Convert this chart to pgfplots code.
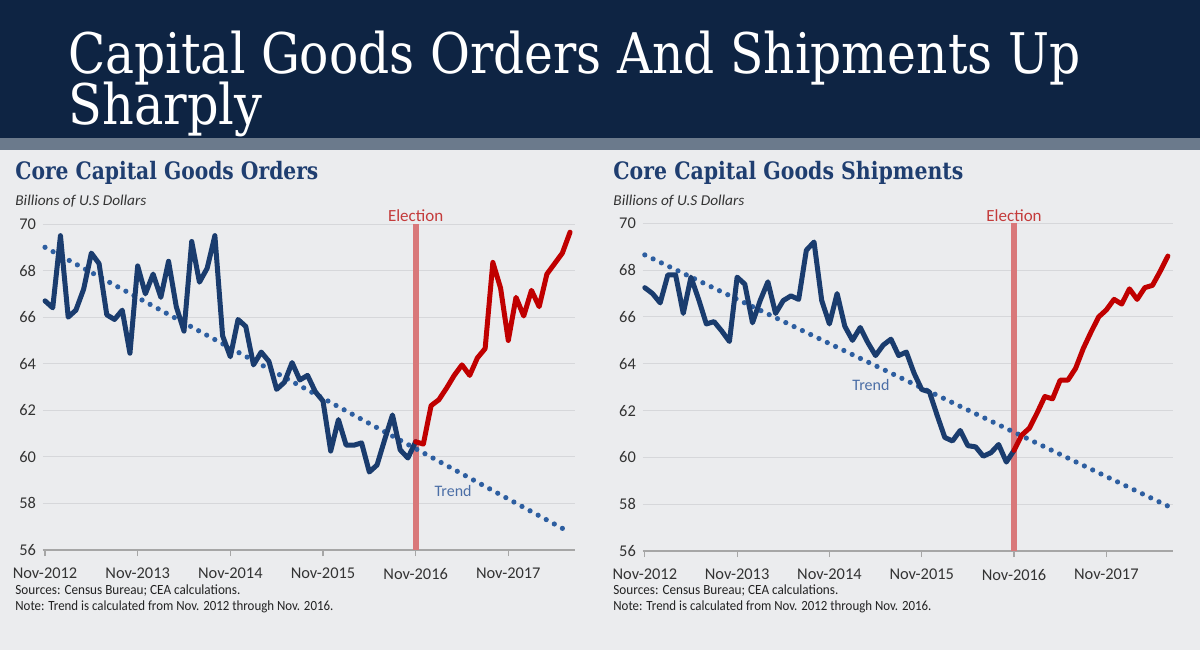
\documentclass[border=0pt]{standalone}
\usepackage{fontspec}
\setmainfont{Carlito}
\newfontfamily\serifT{DejaVu Serif}
\usepackage{graphicx}
\usepackage{pgfplots}
\pgfplotsset{compat=1.18}
\definecolor{bgc}{HTML}{EBECEE}
\definecolor{navy}{HTML}{0E2443}
\definecolor{strip}{HTML}{6B7A8C}
\definecolor{subc}{HTML}{1F3E70}
\definecolor{bluec}{HTML}{1A3C6E}
\definecolor{redc}{HTML}{C00000}
\definecolor{trendc}{HTML}{2D5EA0}
\definecolor{trendtext}{HTML}{4B6EA6}
\definecolor{elec}{HTML}{D9787A}
\definecolor{electext}{HTML}{C43B3B}
\definecolor{axisc}{HTML}{A6A6A6}
\definecolor{gridc}{HTML}{D6D7DA}
\definecolor{labelc}{HTML}{333333}
\definecolor{notec}{HTML}{222222}
\pgfplotsset{
  base/.style={
    scale only axis, clip=false,
    xmin=-0.3, xmax=68.6, ymin=56, ymax=70,
    axis x line*=bottom, axis y line*=left,
    y axis line style={draw=none},
    x axis line style={draw=axisc, line width=0.6pt, -},
    xtick={0,12,24,36,48,60},
    xticklabels={Nov-2012,Nov-2013,Nov-2014,Nov-2015,Nov-2016,Nov-2017},
    ytick={56,58,...,70},
    tick align=outside,
    major tick length=3pt,
    xtick style={draw=axisc, line width=0.6pt},
    ytick style={draw=none},
    ymajorgrids, grid style={draw=gridc, line width=0.5pt},
    tick label style={font=\fontsize{8.2}{9}\selectfont, text=labelc},
    /pgf/number format/assume math mode=true,
    xticklabel style={yshift=-2.5pt},
    yticklabel style={xshift=3.2pt},
  },
  elecline/.style={elec, line width=3pt},
  trendline/.style={trendc, line width=2.6pt, dash pattern=on 0pt off 4.6pt, line cap=round},
  blueline/.style={bluec, line width=2.5pt, line join=round, line cap=round},
  redline/.style={redc, line width=2.5pt, line join=round, line cap=round},
}
\begin{document}
\begin{tikzpicture}[x=1pt,y=1pt]
\fill[bgc] (0,0) rectangle (600,325);
\fill[navy] (0,256) rectangle (600,325);
\fill[strip] (0,250) rectangle (600,256);
\node[anchor=base west, inner sep=0, text=white] at (34,288.5)
  {\resizebox{506pt}{\height}{\serifT\fontsize{28}{28}\selectfont Capital Goods Orders And Shipments Up}};
\node[anchor=base west, inner sep=0, text=white] at (34,263)
  {\resizebox{97pt}{\height}{\serifT\fontsize{28}{28}\selectfont Sharply}};
% subtitles
\node[anchor=base west, inner sep=0, text=subc] at (7.5,235.5)
  {\resizebox{151.5pt}{\height}{\serifT\bfseries\fontsize{12}{12}\selectfont Core Capital Goods Orders}};
\node[anchor=base west, inner sep=0, text=subc] at (306.5,235.5)
  {\resizebox{175pt}{\height}{\serifT\bfseries\fontsize{12}{12}\selectfont Core Capital Goods Shipments}};
\node[anchor=base west, inner sep=0, text=labelc] at (7.5,222.5)
  {\resizebox{65.5pt}{\height}{\itshape\fontsize{7.5}{8}\selectfont Billions of U.S Dollars}};
\node[anchor=base west, inner sep=0, text=labelc] at (306.5,222.5)
  {\resizebox{65.5pt}{\height}{\itshape\fontsize{7.5}{8}\selectfont Billions of U.S Dollars}};
% notes
\node[anchor=base west, inner sep=0, text=notec] at (7.5,28)
  {\resizebox{112.5pt}{\height}{\fontsize{7}{8}\selectfont Sources: Census Bureau; CEA calculations.}};
\node[anchor=base west, inner sep=0, text=notec] at (7.5,20)
  {\resizebox{159pt}{\height}{\fontsize{7}{8}\selectfont Note: Trend is calculated from Nov. 2012 through Nov. 2016.}};
\node[anchor=base west, inner sep=0, text=notec] at (306.5,28)
  {\resizebox{112.5pt}{\height}{\fontsize{7}{8}\selectfont Sources: Census Bureau; CEA calculations.}};
\node[anchor=base west, inner sep=0, text=notec] at (306.5,20)
  {\resizebox{159pt}{\height}{\fontsize{7}{8}\selectfont Note: Trend is calculated from Nov. 2012 through Nov. 2016.}};

% ---------- Orders ----------
\begin{axis}[base, at={(21.35pt,50pt)}, anchor=south west, width=266pt, height=163pt]
\addplot[elecline] coordinates {(48,56) (48,70)};
\addplot[trendline] coordinates {(0,69.0) (68,56.75)};
\addplot[blueline] coordinates {
(0,66.7) (1,66.4) (2,69.5) (3,66.0) (4,66.3) (5,67.2) (6,68.75) (7,68.3) (8,66.1) (9,65.9)
(10,66.3) (11,64.45) (12,68.2) (13,67.0) (14,67.85) (15,66.85) (16,68.4) (17,66.45) (18,65.4) (19,69.25)
(20,67.5) (21,68.1) (22,69.5) (23,65.2) (24,64.3) (25,65.9) (26,65.6) (27,63.95) (28,64.5) (29,64.1)
(30,62.9) (31,63.2) (32,64.05) (33,63.3) (34,63.5) (35,62.8) (36,62.4) (37,60.25) (38,61.6) (39,60.5)
(40,60.5) (41,60.6) (42,59.35) (43,59.65) (44,60.75) (45,61.8) (46,60.3) (47,59.95) (48,60.65)};
\addplot[redline] coordinates {
(48,60.65) (49,60.55) (50,62.2) (51,62.45) (52,62.95) (53,63.5) (54,63.95) (55,63.5) (56,64.25) (57,64.65)
(58,68.35) (59,67.25) (60,65.0) (61,66.85) (62,66.05) (63,67.15) (64,66.45) (65,67.85) (66,68.3) (67,68.75) (68,69.65)};
\node[text=electext, font=\fontsize{8.5}{9}\selectfont, inner sep=0] at (axis cs:48,70) [yshift=4pt] {Election};
\node[text=trendtext, font=\fontsize{8}{9}\selectfont, inner sep=0] at (axis cs:52.85,58.54) {Trend};
\end{axis}

% ---------- Shipments ----------
\begin{axis}[base, at={(321.25pt,49.5pt)}, anchor=south west, width=265pt, height=163.85pt]
\addplot[elecline] coordinates {(48,56) (48,70)};
\addplot[trendline] coordinates {(0,68.65) (68,57.92)};
\addplot[blueline] coordinates {
(0,67.25) (1,67.0) (2,66.6) (3,67.8) (4,67.8) (5,66.15) (6,67.7) (7,66.75) (8,65.7) (9,65.8)
(10,65.4) (11,64.95) (12,67.7) (13,67.4) (14,65.75) (15,66.7) (16,67.5) (17,66.15) (18,66.7) (19,66.9)
(20,66.75) (21,68.85) (22,69.2) (23,66.7) (24,65.7) (25,67.0) (26,65.6) (27,65.0) (28,65.55) (29,64.9)
(30,64.35) (31,64.8) (32,65.05) (33,64.35) (34,64.5) (35,63.6) (36,62.9) (37,62.8) (38,61.8) (39,60.85)
(40,60.7) (41,61.15) (42,60.5) (43,60.45) (44,60.05) (45,60.2) (46,60.55) (47,59.8) (48,60.3)};
\addplot[redline] coordinates {
(48,60.3) (49,60.95) (50,61.25) (51,61.9) (52,62.6) (53,62.5) (54,63.3) (55,63.3) (56,63.8) (57,64.65)
(58,65.35) (59,66.0) (60,66.3) (61,66.75) (62,66.55) (63,67.2) (64,66.75) (65,67.25) (66,67.35) (67,67.95) (68,68.6)};
\node[text=electext, font=\fontsize{8.5}{9}\selectfont, inner sep=0] at (axis cs:48,70) [yshift=4pt] {Election};
\node[text=trendtext, font=\fontsize{8}{9}\selectfont, inner sep=0] at (axis cs:29.4,63.09) {Trend};
\end{axis}
\pgfresetboundingbox
\useasboundingbox (0,0) rectangle (600,325);
\end{tikzpicture}
\end{document}
